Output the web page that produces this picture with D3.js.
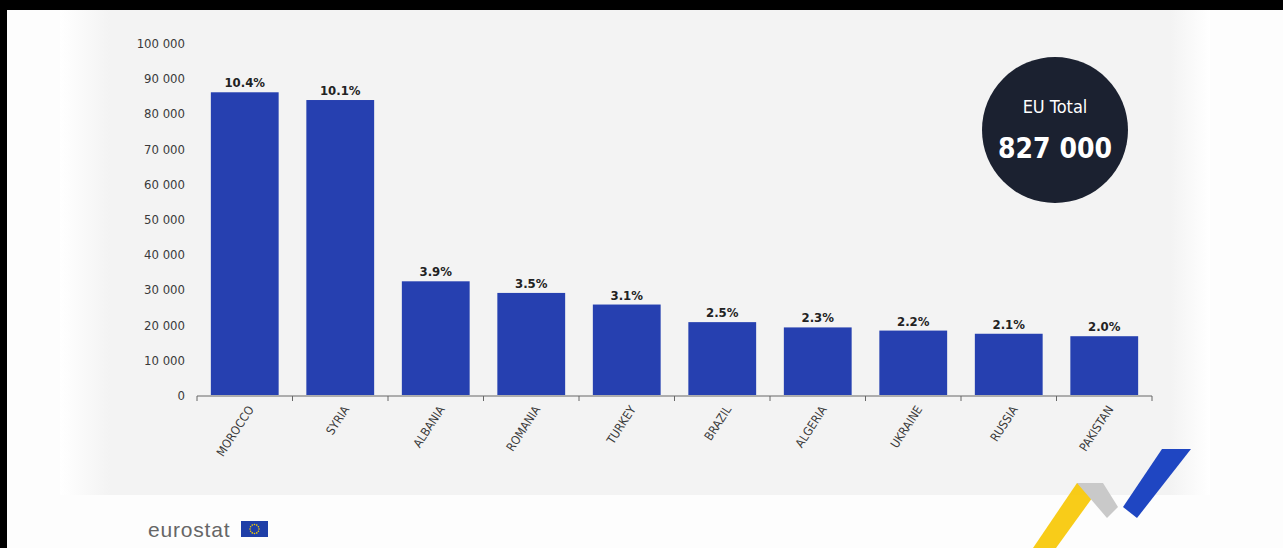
<!DOCTYPE html>
<html>
<head>
<meta charset="utf-8">
<script src="https://cdn.jsdelivr.net/npm/d3@7/dist/d3.min.js"></script>
<style>
  html, body { margin: 0; padding: 0; background: #ffffff; }
  svg { display: block; }
  .cond { font-family: 'DejaVu Sans Condensed', 'DejaVu Sans', sans-serif; font-stretch: condensed; }
</style>
</head>
<body>
<svg id="chart" width="1283" height="548"></svg>
<script>
const categories = ["MOROCCO", "SYRIA", "ALBANIA", "ROMANIA", "TURKEY", "BRAZIL", "ALGERIA", "UKRAINE", "RUSSIA", "PAKISTAN"];
const values = [86000, 83800, 32300, 29000, 25700, 20700, 19200, 18300, 17400, 16700];
const shares = ["10.4%", "10.1%", "3.9%", "3.5%", "3.1%", "2.5%", "2.3%", "2.2%", "2.1%", "2.0%"];
const yTicks = [0, 10000, 20000, 30000, 40000, 50000, 60000, 70000, 80000, 90000, 100000];
const totalLabel = "EU Total";
const totalValue = "827 000";

const W = 1283, H = 548;
const svg = d3.select("#chart");

// background panel
const defs = svg.append("defs");
const lg = defs.append("linearGradient").attr("id", "leftfade").attr("x1", "0").attr("x2", "1");
lg.append("stop").attr("offset", "0").attr("stop-color", "#ffffff");
lg.append("stop").attr("offset", "1").attr("stop-color", "#f3f3f3");
const rg = defs.append("linearGradient").attr("id", "rightfade").attr("x1", "0").attr("x2", "1");
rg.append("stop").attr("offset", "0").attr("stop-color", "#f3f3f3");
rg.append("stop").attr("offset", "1").attr("stop-color", "#ffffff");

svg.append("rect").attr("x", 0).attr("y", 0).attr("width", W).attr("height", H).attr("fill", "#fdfdfd");
svg.append("rect").attr("x", 60).attr("y", 0).attr("width", 50).attr("height", 495).attr("fill", "url(#leftfade)");
svg.append("rect").attr("x", 110).attr("y", 0).attr("width", 1060).attr("height", 495).attr("fill", "#f3f3f3");
svg.append("rect").attr("x", 1170).attr("y", 0).attr("width", 40).attr("height", 495).attr("fill", "url(#rightfade)");

const margin = { left: 197, right: 1152, top: 43, bottom: 395 };
const x = d3.scaleBand().domain(categories).range([margin.left, margin.right]).paddingInner(0.29).paddingOuter(0.145);
const y = d3.scaleLinear().domain([0, 100000]).range([margin.bottom, margin.top]);

// y axis labels
const fmt = v => d3.format(",")(v).replace(/,/g, " ");
const yAxis = d3.axisLeft(y).tickValues(yTicks).tickSize(0).tickPadding(0).tickFormat(fmt);
const yg = svg.append("g").attr("transform", `translate(185,0)`).call(yAxis);
yg.select(".domain").remove();
yg.attr("font-family", null);
yg.selectAll("text").attr("class", "cond").attr("font-size", 13).attr("fill", "#3a3a3a").attr("dy", "0.35em");

// bars
svg.append("g").selectAll("rect").data(categories).join("rect")
  .attr("x", d => x(d))
  .attr("width", x.bandwidth())
  .attr("y", (d, i) => y(values[i]))
  .attr("height", (d, i) => y(0) - y(values[i]))
  .attr("fill", "#2640b0");

// value labels
svg.append("g").selectAll("text").data(categories).join("text")
  .attr("class", "cond")
  .attr("x", d => x(d) + x.bandwidth() / 2)
  .attr("y", (d, i) => y(values[i]) - 5)
  .attr("text-anchor", "middle")
  .attr("font-weight", "bold").attr("font-size", 13)
  .attr("fill", "#222")
  .text((d, i) => shares[i]);

// x axis
const boundaries = d3.range(categories.length + 1).map(i => margin.left + i * x.step());
const xg = svg.append("g");
xg.append("line").attr("x1", margin.left).attr("x2", margin.right)
  .attr("y1", y(0) + 1).attr("y2", y(0) + 1).attr("stroke", "#666").attr("stroke-width", 1);
xg.selectAll("line.tick").data(boundaries).join("line").attr("class", "tick")
  .attr("x1", d => d).attr("x2", d => d)
  .attr("y1", y(0) + 1).attr("y2", y(0) + 6).attr("stroke", "#666");

xg.selectAll("text").data(categories).join("text")
  .attr("class", "cond")
  .attr("transform", d => `translate(${x(d) + x.bandwidth() / 2 + 6},${y(0) + 12}) rotate(-57)`)
  .attr("text-anchor", "end")
  .attr("dy", "0.35em")
  .attr("font-size", 12).attr("fill", "#3a3a3a")
  .text(d => d);

// EU total badge
svg.append("circle").attr("cx", 1055).attr("cy", 130).attr("r", 73).attr("fill", "#1b2130");
svg.append("text").attr("class", "cond").attr("x", 1055).attr("y", 113).attr("text-anchor", "middle")
  .attr("font-size", 18).attr("fill", "#ffffff").text(totalLabel);
svg.append("text").attr("class", "cond").attr("x", 1055).attr("y", 158).attr("text-anchor", "middle")
  .attr("font-weight", "bold").attr("font-size", 28).attr("fill", "#ffffff").text(totalValue);

// eurostat logo
svg.append("text").attr("x", 148).attr("y", 537)
  .attr("font-family", "'Liberation Sans', Arial, sans-serif").attr("font-size", 21).attr("fill", "#666")
  .attr("letter-spacing", 0.8).text("eurostat");
svg.append("rect").attr("x", 241).attr("y", 521).attr("width", 27).attr("height", 16).attr("fill", "#1f3fa8");
const starR = 4.5;
svg.append("g").selectAll("circle").data(d3.range(12)).join("circle")
  .attr("cx", i => 254.5 + starR * Math.cos(i * Math.PI / 6))
  .attr("cy", i => 529 + starR * Math.sin(i * Math.PI / 6))
  .attr("r", 0.8).attr("fill", "#f5d000");

// decorative strokes bottom right
svg.append("polygon").attr("points", "1033,548 1077,483 1103,483 1056,548").attr("fill", "#f7c600").attr("opacity", 0.9);
svg.append("polygon").attr("points", "1077,483 1103,483 1118,507 1107,518").attr("fill", "#c9c9c9");
svg.append("polygon").attr("points", "1123,507 1162,449 1191,449 1137,518").attr("fill", "#1f46c2");

// black frame edges
svg.append("rect").attr("x", 0).attr("y", 0).attr("width", W).attr("height", 10).attr("fill", "#000");
svg.append("rect").attr("x", 0).attr("y", 0).attr("width", 7).attr("height", H).attr("fill", "#000");
</script>
</body>
</html>
